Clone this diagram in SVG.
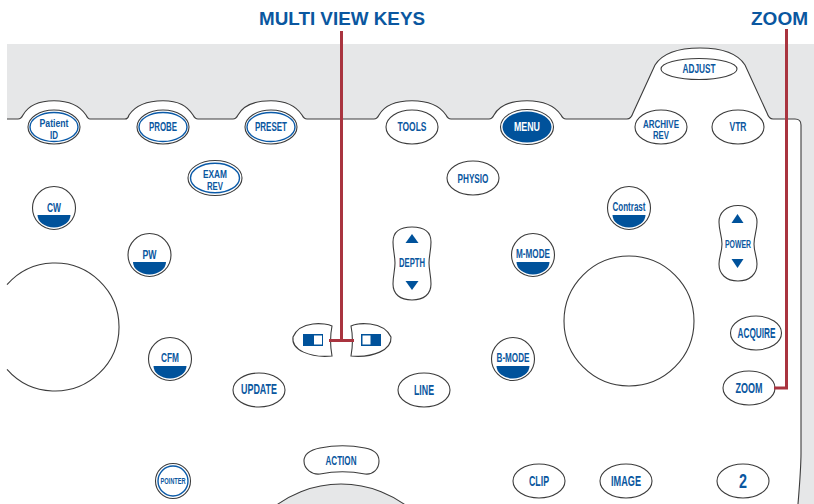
<svg xmlns="http://www.w3.org/2000/svg" width="814" height="504" viewBox="0 0 814 504">
<defs>
<style>
.o{fill:#fff;stroke:#3c3c3c;stroke-width:1.1}
.b{fill:none;stroke:#0a5aa8;stroke-width:1.4}
.f{fill:#00529b}
.t{font-family:"Liberation Sans",Arial,sans-serif;font-weight:700;fill:#0a57a0;text-anchor:middle;font-size:12px}
.m{font-size:14px}
.d{font-size:10.200px}
.h{font-family:"Liberation Sans",Arial,sans-serif;font-weight:700;fill:#0a57a0;text-anchor:middle;font-size:18.500px}
.r{fill:none;stroke:#a9343f;stroke-width:3}
</style>
</defs>
<rect width="814" height="504" fill="#fff"/>
<path id="panel" d="M7 44H814V504H798C800 480 801 465 801 453V125Q801 119 795 119H773Q769 119 767 113L745 65C738 54 722 48 700 48C678 48 662 54 655 65L633 113Q631 119 627 119H566Q563 119 561 115C555 106 543 100.700 527 100.700C511 100.700 499 106 494 115Q492 119 489 119H451Q448 119 446 115C440 106 428 100.700 412 100.700C396 100.700 384 106 379 115Q377 119 374 119H307Q304 119 302 115C296 106 287 100.700 271 100.700C255 100.700 243 106 238 115Q236 119 233 119H198Q195 119 193 115C187 106 179 100.700 163 100.700C147 100.700 135 106 129 115Q128 119 125 119H90Q88 119 86 115C80 106 70 100.700 54 100.700C38 100.700 28 106 23 115Q21 119 18 119H7Z" fill="#e6e7e8"/>
<path d="M7 119H18Q21 119 23 115C28 106 38 100.700 54 100.700C70 100.700 80 106 86 115Q88 119 90 119H125Q128 119 129 115C135 106 147 100.700 163 100.700C179 100.700 187 106 193 115Q195 119 198 119H233Q236 119 238 115C243 106 255 100.700 271 100.700C287 100.700 296 106 302 115Q304 119 307 119H374Q377 119 379 115C384 106 396 100.700 412 100.700C428 100.700 440 106 446 115Q448 119 451 119H489Q492 119 494 115C499 106 511 100.700 527 100.700C543 100.700 555 106 561 115Q563 119 566 119H627Q631 119 633 113L655 65C662 54 678 48 700 48C722 48 738 54 745 65L767 113Q769 119 773 119H795Q801 119 801 125V453C801 465 800 480 798 504" fill="none" stroke="#3c3c3c" stroke-width="1.1"/>
<path id="left-dial" class="o" d="M7 284.700A64 64 0 1 1 7 369.300"/>
<circle id="right-dial" class="o" cx="629" cy="321" r="65"/>
<circle id="action-dial" cx="341" cy="593" r="109" fill="#e6e7e8" stroke="#3c3c3c" stroke-width="1.1"/>

<g id="patient-id"><ellipse class="o" cx="54" cy="127" rx="26" ry="17"/><ellipse class="b" cx="54" cy="127" rx="24" ry="14.500"/><text class="t d" x="54" y="127.400" textLength="29" lengthAdjust="spacingAndGlyphs">Patient</text><text class="t d" x="54" y="138.900" textLength="8" lengthAdjust="spacingAndGlyphs">ID</text></g>
<g id="probe"><ellipse class="o" cx="163" cy="127" rx="26" ry="17"/><ellipse class="b" cx="163" cy="127" rx="24" ry="14.500"/><text class="t" x="163" y="131" textLength="28" lengthAdjust="spacingAndGlyphs">PROBE</text></g>
<g id="preset"><ellipse class="o" cx="271" cy="127" rx="26" ry="17"/><ellipse class="b" cx="271" cy="127" rx="24" ry="14.500"/><text class="t" x="271" y="131" textLength="32" lengthAdjust="spacingAndGlyphs">PRESET</text></g>
<g id="tools"><ellipse class="o" cx="412" cy="127" rx="26" ry="17"/><text class="t" x="412" y="131" textLength="29" lengthAdjust="spacingAndGlyphs">TOOLS</text></g>
<g id="menu"><ellipse class="o" cx="527" cy="127" rx="26.500" ry="17.500"/><ellipse cx="527" cy="127" rx="24.500" ry="15.500" class="f"/><text class="t" x="527" y="131" style="fill:#fff" textLength="26" lengthAdjust="spacingAndGlyphs">MENU</text></g>
<g id="adjust"><ellipse class="o" cx="699" cy="69" rx="38" ry="10.500"/><text class="t" x="699" y="73" textLength="33" lengthAdjust="spacingAndGlyphs">ADJUST</text></g>
<g id="archive-rev"><ellipse class="o" cx="661" cy="127" rx="26" ry="17"/><text class="t d" x="661" y="127.600" textLength="36" lengthAdjust="spacingAndGlyphs">ARCHIVE</text><text class="t d" x="661" y="139.100" textLength="16" lengthAdjust="spacingAndGlyphs">REV</text></g>
<g id="vtr"><ellipse class="o" cx="738" cy="127" rx="26" ry="17"/><text class="t" x="738" y="131" textLength="17" lengthAdjust="spacingAndGlyphs">VTR</text></g>
<g id="exam-rev"><ellipse class="o" cx="215" cy="178" rx="27" ry="17.500"/><ellipse class="b" cx="215" cy="178" rx="24.500" ry="14.800"/><text class="t d" x="215" y="178.400" textLength="24" lengthAdjust="spacingAndGlyphs">EXAM</text><text class="t d" x="215" y="189.900" textLength="16" lengthAdjust="spacingAndGlyphs">REV</text></g>
<g id="physio"><ellipse class="o" cx="473" cy="178" rx="26" ry="17"/><text class="t" x="473" y="183" textLength="31" lengthAdjust="spacingAndGlyphs">PHYSIO</text></g>

<g id="cw"><circle class="o" cx="54" cy="208" r="21.500"/><path class="f" d="M37.500 215H70.500A16.500 12.500 0 0 1 37.500 215Z"/><text class="t" x="54" y="211.500" textLength="14" lengthAdjust="spacingAndGlyphs">CW</text></g>
<g id="pw"><circle class="o" cx="149.500" cy="255" r="21.500"/><path class="f" d="M133 262H166A16.500 12.500 0 0 1 133 262Z"/><text class="t" x="149.500" y="258.500" textLength="14" lengthAdjust="spacingAndGlyphs">PW</text></g>
<g id="cfm"><circle class="o" cx="170" cy="359" r="21.500"/><path class="f" d="M153.500 366H186.500A16.500 12.500 0 0 1 153.500 366Z"/><text class="t" x="170" y="362" textLength="18" lengthAdjust="spacingAndGlyphs">CFM</text></g>
<g id="m-mode"><circle class="o" cx="533" cy="255" r="21.500"/><path class="f" d="M516.500 262H549.500A16.500 12.500 0 0 1 516.500 262Z"/><text class="t" x="533" y="258" textLength="34" lengthAdjust="spacingAndGlyphs">M-MODE</text></g>
<g id="b-mode"><circle class="o" cx="513" cy="359" r="21.500"/><path class="f" d="M496.500 366H529.500A16.500 12.500 0 0 1 496.500 366Z"/><text class="t" x="513" y="362" textLength="33" lengthAdjust="spacingAndGlyphs">B-MODE</text></g>
<g id="contrast"><circle class="o" cx="629" cy="208" r="21.500"/><path class="f" d="M612.500 215H645.500A16.500 12.500 0 0 1 612.500 215Z"/><text class="t" x="629" y="211" textLength="33" lengthAdjust="spacingAndGlyphs">Contrast</text></g>

<g id="depth"><path class="o" d="M412 227C424 227 431 232 431 242C431 250 429 256 429 263C429 270 431 276 431 284C431 294 424 300 412 300C400 300 393 294 393 284C393 276 395 270 395 263C395 256 393 250 393 242C393 232 400 227 412 227Z"/><path class="f" d="M412 234L418.500 243H405.500Z"/><path class="f" d="M405.500 281H418.500L412 290Z"/><text class="t" x="412" y="267" textLength="26" lengthAdjust="spacingAndGlyphs">DEPTH</text></g>
<g id="power"><path class="o" d="M738 205.500C750 205.500 757 213 757 222C757 231 754 236 754 244C754 252 757 257 757 264C757 274 750 281 738 281C726 281 719 274 719 264C719 257 722 252 722 244C722 236 719 231 719 222C719 213 726 205.500 738 205.500Z"/><path class="f" d="M737.500 214L743.500 223H731.500Z"/><path class="f" d="M731.500 259H743.500L737.500 268Z"/><text class="t" x="738" y="248" style="font-size:11px" textLength="26" lengthAdjust="spacingAndGlyphs">POWER</text></g>

<g id="view-left"><path class="o" d="M332 326C326 323 300 320 293 337C291 350 310 358 332 356C330 345 330 336 332 326Z"/><rect class="f" x="303" y="334" width="20" height="12"/><rect x="314" y="335.500" width="8" height="9" fill="#fff"/></g>
<g id="view-right"><path class="o" d="M351 326C357 323 383 320 391 337C392 350 373 358 351 356C353 345 353 336 351 326Z"/><rect class="f" x="361" y="334" width="20" height="12"/><rect x="362.500" y="335.500" width="8" height="9" fill="#fff"/></g>

<g id="update"><ellipse class="o" cx="259" cy="390" rx="26" ry="17"/><text class="t m" x="259" y="394" textLength="36" lengthAdjust="spacingAndGlyphs">UPDATE</text></g>
<g id="line"><ellipse class="o" cx="424" cy="390" rx="26" ry="17"/><text class="t m" x="424" y="395" textLength="20" lengthAdjust="spacingAndGlyphs">LINE</text></g>
<g id="acquire"><ellipse class="o" cx="756" cy="333" rx="25.500" ry="17"/><text class="t m" x="756.500" y="338" textLength="38" lengthAdjust="spacingAndGlyphs">ACQUIRE</text></g>
<g id="zoom"><ellipse class="o" cx="749" cy="388" rx="26" ry="17"/><text class="t m" x="749" y="393" textLength="27" lengthAdjust="spacingAndGlyphs">ZOOM</text></g>
<g id="two"><ellipse class="o" cx="743" cy="481" rx="26" ry="17"/><text class="t" x="743" y="488" style="font-size:20px" textLength="8" lengthAdjust="spacingAndGlyphs">2</text></g>
<g id="pointer"><circle class="o" cx="173" cy="481" r="17.500"/><circle class="b" cx="173" cy="481" r="15"/><text class="t" x="173" y="484" style="font-size:9.500px" textLength="25" lengthAdjust="spacingAndGlyphs">POINTER</text></g>
<g id="action"><path class="o" d="M320 448C335 445 350 445 365 448C376 450 379 456 379 461C379 469 373 475 365 474C350 471 335 471 320 474C312 475 304 469 304 461C304 454 310 450 320 448Z"/><text class="t" x="341" y="465" textLength="31" lengthAdjust="spacingAndGlyphs">ACTION</text></g>
<g id="clip"><ellipse class="o" cx="539" cy="481" rx="26" ry="17"/><text class="t m" x="539" y="486" textLength="20" lengthAdjust="spacingAndGlyphs">CLIP</text></g>
<g id="image"><ellipse class="o" cx="626" cy="481" rx="26" ry="17"/><text class="t m" x="626" y="486" textLength="30" lengthAdjust="spacingAndGlyphs">IMAGE</text></g>

<g id="connectors">
<path class="r" d="M341.500 31V340"/><path class="r" d="M329 340.500H354"/>
<path class="r" d="M786.500 29V388H774"/>
</g>
<g id="callouts">
<text class="h" x="342" y="25" textLength="166" lengthAdjust="spacingAndGlyphs">MULTI VIEW KEYS</text>
<text class="h" x="779.500" y="25" textLength="57" lengthAdjust="spacingAndGlyphs">ZOOM</text>
</g>
</svg>
